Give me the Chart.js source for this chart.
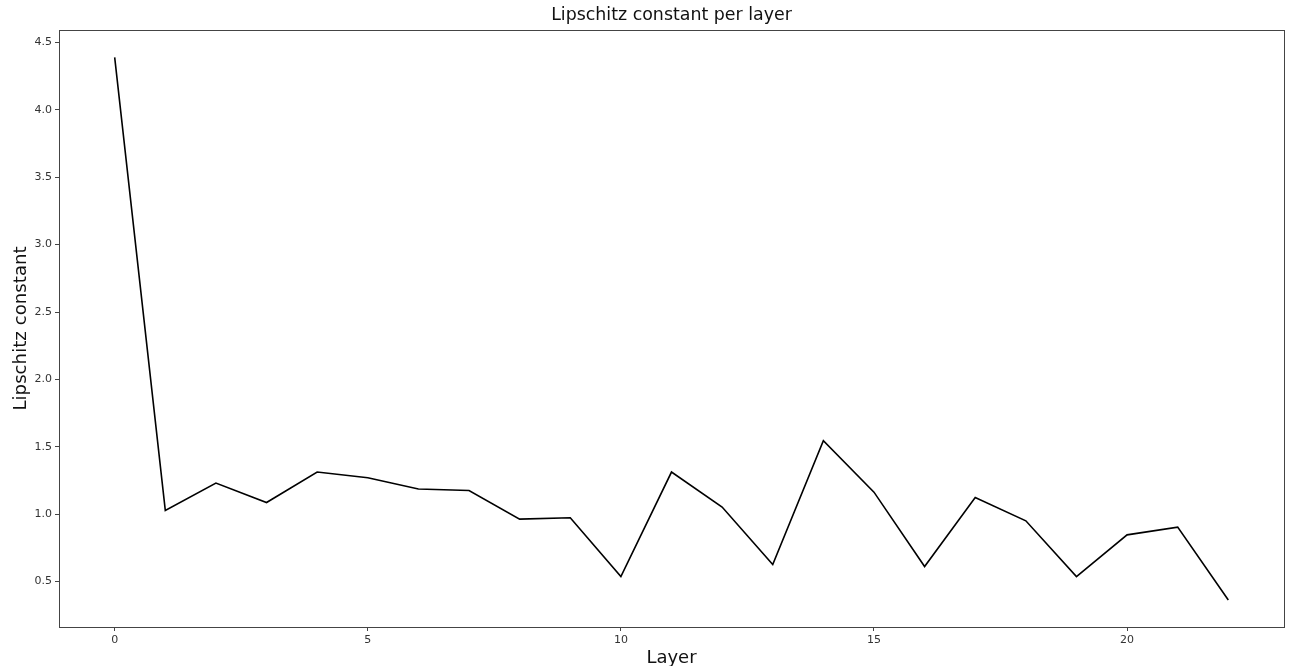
<!DOCTYPE html>
<html>
<head>
<meta charset="utf-8">
<script src="https://cdn.jsdelivr.net/npm/chart.js@4"></script>
<style>
  html, body { margin: 0; padding: 0; background: #fff; }
  #wrap { width: 1290px; height: 666px; }
</style>
</head>
<body>
<div id="wrap"><canvas id="lipChart"></canvas></div>
<script>
// values
const layers = [0,1,2,3,4,5,6,7,8,9,10,11,12,13,14,15,16,17,18,19,20,21,22];
const lipschitz = [4.39,1.027,1.23,1.086,1.312,1.27,1.186,1.175,0.963,0.973,0.536,1.312,1.052,0.626,1.545,1.163,0.611,1.123,0.95,0.536,0.846,0.903,0.363];
const xTicks = [0,5,10,15,20];
const yTicks = [0.5,1.0,1.5,2.0,2.5,3.0,3.5,4.0,4.5];

Chart.defaults.font.family = 'DejaVu Sans';
Chart.defaults.color = '#333';

// draw the full box round the plot area (matplotlib style)
const frame = {
  id: 'frame',
  afterDraw(c) {
    const a = c.chartArea, g = c.ctx;
    g.save();
    g.strokeStyle = '#444';
    g.lineWidth = 1;
    g.strokeRect(Math.round(a.left) + 0.5, Math.round(a.top) + 0.5,
                 Math.round(a.right - a.left), Math.round(a.bottom - a.top));
    g.restore();
  }
};

const ctx = document.getElementById('lipChart').getContext('2d');
new Chart(ctx, {
  type: 'line',
  data: {
    datasets: [{
      data: layers.map((x, i) => ({ x: x, y: lipschitz[i] })),
      borderColor: '#000',
      borderWidth: 1.6,
      pointRadius: 0,
      tension: 0,
      fill: false
    }]
  },
  options: {
    responsive: true,
    maintainAspectRatio: false,
    animation: false,
    layout: { padding: { left: 0, right: 6, top: 0, bottom: 0 } },
    plugins: {
      legend: { display: false },
      tooltip: { enabled: false },
      title: {
        display: true,
        fullSize: false,   // centre over the plot area, like matplotlib
        text: 'Lipschitz constant per layer',
        color: '#111',
        font: { size: 17.4, weight: 'normal' },
        padding: { top: 5, bottom: 4 }
      }
    },
    scales: {
      x: {
        type: 'linear',
        min: -1.1,
        max: 23.1,
        afterBuildTicks: s => { s.ticks = xTicks.map(v => ({ value: v })); },
        afterFit: s => { s.height = 39; },
        grid: { drawOnChartArea: false, drawTicks: true, tickLength: 4, color: '#444' },
        border: { display: false },
        ticks: { font: { size: 11 }, padding: 3, color: '#333', callback: v => String(v) },
        title: { display: true, text: 'Layer', font: { size: 18 }, color: '#111', padding: { top: 0, bottom: -3 } }
      },
      y: {
        min: 0.162,
        max: 4.594,
        afterBuildTicks: s => { s.ticks = yTicks.map(v => ({ value: v })); },
        afterFit: s => { s.width = 59; },
        grid: { drawOnChartArea: false, drawTicks: true, tickLength: 4, color: '#444' },
        border: { display: false },
        ticks: { font: { size: 11 }, padding: 3, color: '#333', callback: v => v.toFixed(1) },
        title: { display: true, text: 'Lipschitz constant', font: { size: 18.2 }, color: '#111', padding: { top: 10, bottom: 0 } }
      }
    }
  },
  plugins: [frame]
});
</script>
</body>
</html>
